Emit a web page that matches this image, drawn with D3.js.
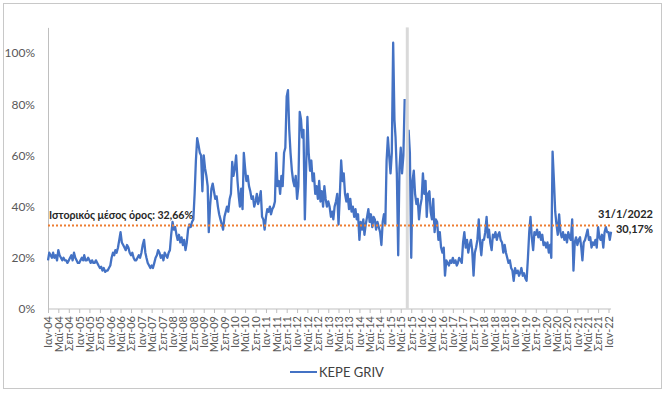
<!DOCTYPE html>
<html lang="el">

<head>
    <meta charset="UTF-8">
    <title>KEPE GRIV</title>
    <style>
        body { margin: 0; background: #fff; }
        svg { display: block; font-family: Lato, "Open Sans", sans-serif; }
    </style>
</head>

<body>
    <div class="canvas"></div>
    <script src="https://cdnjs.cloudflare.com/ajax/libs/d3/7.8.2/d3.min.js"></script>
    <script>
        // semi-monthly readings (1st and 16th of each month)
        const y2004 = [.19, .22, .21, .20, .22, .20, .21, .19, .23, .21, .20, .19, .20, .19, .19, .18, .19, .20, .21, .19, .22, .20, .19, .18];
        const y2005 = [.18, .19, .20, .19, .21, .19, .19, .20, .19, .18, .19, .18, .18, .19, .18, .17, .16, .165, .15, .16, .145, .15, .15, .16];
        const y2006 = [.17, .20, .22, .21, .23, .22, .24, .27, .30, .26, .25, .24, .23, .25, .24, .22, .21, .22, .20, .19, .19, .20, .21, .20];
        const y2007 = [.22, .25, .27, .22, .20, .18, .17, .16, .17, .16, .18, .20, .21, .23, .22, .20, .21, .19, .22, .21, .20, .22, .23, .29];
        const y2008 = [.34, .31, .32, .29, .27, .29, .26, .28, .25, .27, .23, .26, .31, .33, .32, .34, .35, .45, .58, .667, .64, .61, .60, .46];
        const y2009 = [.60, .55, .52, .48, .30, .40, .47, .49, .46, .43, .44, .40, .37, .35, .33, .31, .36, .38, .40, .38, .43, .45, .575, .52];
        const y2010 = [.55, .60, .50, .44, .40, .47, .39, .61, .55, .50, .52, .48, .46, .43, .44, .40, .42, .45, .41, .43, .46, .36, .35, .31];
        const y2011 = [.36, .39, .38, .40, .37, .39, .40, .42, .61, .48, .50, .45, .52, .48, .61, .63, .83, .855, .70, .61, .54, .50, .48, .52];
        const y2012 = [.43, .48, .77, .74, .67, .70, .35, .55, .75, .61, .54, .58, .50, .53, .45, .48, .43, .50, .42, .46, .40, .48, .43, .40];
        const y2013 = [.42, .40, .36, .38, .35, .40, .42, .45, .33, .44, .58, .50, .53, .45, .42, .45, .39, .43, .38, .40, .36, .39, .35, .37];
        const y2014 = [.27, .34, .31, .35, .29, .33, .36, .39, .34, .37, .32, .36, .35, .31, .34, .32, .30, .25, .34, .37, .33, .58, .67, .60];
        const y2015 = [.53, .61, 1.04, .74, .67, .53, .21, .55, .63, .53, .60, .82, null, null, .70, .61, .20, .50, .54, .45, .41, .43, .35, .40];
        const y2016 = [.43, .53, .45, .50, .36, .45, .46, .38, .35, .43, .30, .35, .34, .27, .30, .24, .22, .24, .13, .19, .18, .17, .19, .18];
        const y2017 = [.20, .18, .19, .17, .18, .20, .19, .18, .26, .30, .24, .27, .22, .25, .27, .23, .13, .22, .24, .27, .35, .26, .21, .27];
        const y2018 = [.27, .30, .36, .28, .31, .26, .23, .29, .28, .30, .27, .29, .30, .27, .26, .22, .25, .22, .20, .18, .19, .16, .15, .11];
        const y2019 = [.16, .14, .15, .13, .14, .16, .13, .14, .12, .11, .20, .30, .36, .28, .23, .30, .29, .31, .28, .30, .27, .29, .25, .26];
        const y2020 = [.24, .26, .22, .25, .20, .615, .50, .38, .33, .29, .37, .30, .28, .30, .27, .29, .26, .30, .28, .27, .35, .15, .26, .28];
        const y2021 = [.25, .27, .28, .24, .19, .26, .27, .29, .31, .27, .28, .24, .26, .25, .27, .24, .32, .28, .27, .29, .24, .30, .32, .30];
        const y2022 = [.30, .27];
        const lastDate = "2022-01-31";
        const lastValue = 0.3017;

        const meanValue = 0.3266;
        const closure = ["2015-06-29", "2015-08-03"];   // grey band
        const monthLabels = ["Ιαν", "Μαϊ", "Σεπ"];
        const yTicks = [0, 0.2, 0.4, 0.6, 0.8, 1.0];

        const years = [
            [2004, y2004], [2005, y2005], [2006, y2006], [2007, y2007], [2008, y2008],
            [2009, y2009], [2010, y2010], [2011, y2011], [2012, y2012], [2013, y2013],
            [2014, y2014], [2015, y2015], [2016, y2016], [2017, y2017], [2018, y2018],
            [2019, y2019], [2020, y2020], [2021, y2021], [2022, y2022]
        ];

        const data = [];
        years.forEach(([yr, vals]) => {
            vals.forEach((v, i) => {
                data.push({ date: new Date(yr, Math.floor(i / 2), i % 2 ? 16 : 1), value: v });
            });
        });
        data.push({ date: d3.isoParse(lastDate), value: lastValue });

        const width = 665;
        const height = 395;

        const svg = d3.select(".canvas").append("svg")
            .attr("width", width)
            .attr("height", height);

        // outer frame
        svg.append("rect")
            .attr("x", 3.5).attr("y", 3.5)
            .attr("width", 658).attr("height", 385)
            .attr("fill", "none")
            .attr("stroke", "#c8c8c8");

        const x = d3.scaleTime()
            .domain([new Date(2004, 0, 1), new Date(2022, 0, 1)])
            .range([48, 608.5]);

        const y = d3.scaleLinear()
            .domain([0, 1.1])
            .range([309, 27.4]);

        // y axis
        const yAxis = d3.axisLeft(y)
            .tickValues(yTicks)
            .tickSize(0)
            .tickPadding(13)
            .tickFormat(d3.format(".0%"));
        const yAxisGroup = svg.append("g")
            .attr("transform", `translate(${x.range()[0]}, 0)`)
            .call(yAxis);
        yAxisGroup.select(".domain").attr("stroke", "#bfbfbf");
        yAxisGroup.selectAll("text")
            .attr("font-size", "12px")
            .attr("font-family", "Lato, sans-serif")
            .attr("fill", "#595959");

        // x axis
        const xTicks = d3.timeMonth.every(4).range(new Date(2004, 0, 1), new Date(2022, 0, 2));
        const xAxis = d3.axisBottom(x)
            .tickValues(xTicks)
            .tickSize(4)
            .tickSizeOuter(0)
            .tickFormat(d => `${monthLabels[d.getMonth() / 4]}-${d3.timeFormat("%y")(d)}`);
        const xAxisGroup = svg.append("g")
            .attr("transform", `translate(0, ${y(0)})`)
            .call(xAxis);
        xAxisGroup.select(".domain")
            .attr("stroke", "#bfbfbf")
            .attr("d", `M${x.range()[0]},0H${x(d3.isoParse(lastDate))}`);
        xAxisGroup.selectAll(".tick line").attr("stroke", "#bfbfbf");
        xAxisGroup.selectAll("text")
            .attr("font-size", "11px")
            .attr("font-family", "Lato, sans-serif")
            .attr("fill", "#595959")
            .attr("transform", "rotate(-90)")
            .attr("text-anchor", "end")
            .attr("dy", "0.35em")
            .attr("x", -7)
            .attr("y", 0);

        // series
        const line = d3.line()
            .defined(d => d.value !== null)
            .x(d => x(d.date))
            .y(d => y(d.value));

        svg.append("path")
            .datum(data)
            .attr("fill", "none")
            .attr("stroke", "#4472C4")
            .attr("stroke-width", 2.3)
            .attr("stroke-linejoin", "round")
            .attr("d", line);

        // closure band
        svg.append("rect")
            .attr("x", x(d3.isoParse(closure[0])))
            .attr("width", x(d3.isoParse(closure[1])) - x(d3.isoParse(closure[0])))
            .attr("y", y(1.1))
            .attr("height", y(0) - y(1.1))
            .attr("fill", "#d9d9d9");

        // historical mean
        svg.append("line")
            .attr("x1", x.range()[0])
            .attr("x2", x(d3.isoParse(lastDate)))
            .attr("y1", y(meanValue))
            .attr("y2", y(meanValue))
            .attr("stroke", "#ED7D31")
            .attr("stroke-width", 2)
            .attr("stroke-dasharray", "2,2");

        svg.append("text")
            .attr("x", 49)
            .attr("y", 219)
            .attr("font-size", "10.6px")
            .attr("font-weight", "bold")
            .attr("fill", "#262626")
            .text(`Ιστορικός μέσος όρος: ${d3.format(".2f")(meanValue * 100).replace(".", ",")}%`);

        const endLabel = svg.append("text")
            .attr("text-anchor", "end")
            .attr("font-size", "11px")
            .attr("font-weight", "bold")
            .attr("fill", "#262626");
        endLabel.append("tspan").attr("x", 653).attr("y", 218).text("31/1/2022");
        endLabel.append("tspan").attr("x", 653).attr("y", 233)
            .text(`${d3.format(".2f")(lastValue * 100).replace(".", ",")}%`);

        // legend
        const legend = svg.append("g").attr("transform", "translate(290, 372)");
        legend.append("line")
            .attr("x1", 0).attr("x2", 27)
            .attr("stroke", "#4472C4")
            .attr("stroke-width", 2);
        legend.append("text")
            .attr("x", 29)
            .attr("y", 4.5)
            .attr("font-size", "13px")
            .attr("fill", "#404040")
            .text("KEPE GRIV");
    </script>
</body>

</html>
